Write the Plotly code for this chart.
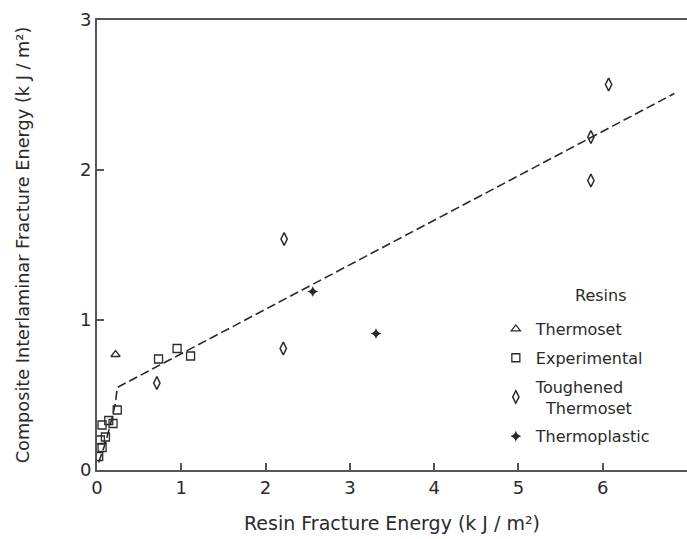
import plotly.graph_objects as go

# Data (kJ/m^2)
thermoset_x = [0.22]
thermoset_y = [0.77]

experimental_x = [0.73, 0.95, 1.11, 0.24, 0.19, 0.14, 0.06, 0.04, 0.06, 0.02, 0.10]
experimental_y = [0.74, 0.81, 0.76, 0.40, 0.31, 0.33, 0.30, 0.20, 0.15, 0.09, 0.22]

toughened_x = [0.71, 2.21, 2.22, 5.86, 5.86, 6.07]
toughened_y = [0.58, 0.81, 1.54, 1.93, 2.22, 2.57]

thermoplastic_x = [2.56, 3.31]
thermoplastic_y = [1.19, 0.91]

fit_x = [0.02, 0.10, 0.18, 0.22, 0.24, 6.85]
fit_y = [0.05, 0.18, 0.35, 0.45, 0.55, 2.51]

x_ticks = [0, 1, 2, 3, 4, 5, 6, 7]
y_ticks = [0, 1, 2, 3]

ink = "#2a2a2a"
font_family = "DejaVu Sans, Liberation Sans, Arial, sans-serif"

fig = go.Figure()

fig.add_trace(go.Scatter(
    x=fit_x, y=fit_y, mode="lines", showlegend=False,
    line=dict(color=ink, width=1.6, dash="9px,4px"), hoverinfo="skip"))

fig.add_trace(go.Scatter(
    x=thermoset_x, y=thermoset_y, mode="markers", name="Thermoset", legendgroup="a",
    marker=dict(symbol="triangle-up-open", size=8, color=ink, line=dict(width=1.3))))
fig.add_trace(go.Scatter(
    x=experimental_x, y=experimental_y, mode="markers", name="Experimental", legendgroup="b",
    marker=dict(symbol="square-open", size=8, color=ink, line=dict(width=1.3))))
fig.add_trace(go.Scatter(
    x=toughened_x, y=toughened_y, mode="markers", name="Toughened<br>  Thermoset", legendgroup="c",
    marker=dict(symbol="diamond-tall-open", size=9, color=ink, line=dict(width=1.5))))
fig.add_trace(go.Scatter(
    x=thermoplastic_x, y=thermoplastic_y, mode="markers", name="Thermoplastic", legendgroup="d",
    marker=dict(symbol="star-diamond", size=8, color=ink, line=dict(width=0))))

axis_common = dict(
    showgrid=False, zeroline=False, showline=True, linecolor="#555555", linewidth=2,
    ticks="inside", ticklen=7, tickwidth=1.5, tickcolor="#555555",
    tickfont=dict(family=font_family, size=18, color=ink),
)

fig.update_layout(
    width=687, height=539,
    margin=dict(l=97, r=0, t=20, b=69),
    paper_bgcolor="white", plot_bgcolor="white",
    font=dict(family=font_family, color=ink),
    xaxis=dict(range=[0, 7], tickvals=x_ticks, mirror=True,
               title=dict(text="Resin Fracture Energy (k J / m²)", font=dict(size=19, color=ink), standoff=20),
               **axis_common),
    yaxis=dict(range=[0, 3], tickvals=y_ticks,
               title=dict(text="Composite Interlaminar Fracture Energy (k J / m²)", font=dict(size=17.7, color=ink), standoff=46),
               **axis_common),
    legend=dict(x=0.676, y=0.351, xanchor="left", yanchor="top",
                bgcolor="rgba(0,0,0,0)", font=dict(size=16, color=ink),
                itemwidth=30, tracegroupgap=5),
    annotations=[dict(text="Resins", xref="paper", yref="paper", x=0.855, y=0.388,
                      xanchor="center", yanchor="middle", showarrow=False,
                      font=dict(size=16, color=ink))],
)

fig.write_html("out.html")
